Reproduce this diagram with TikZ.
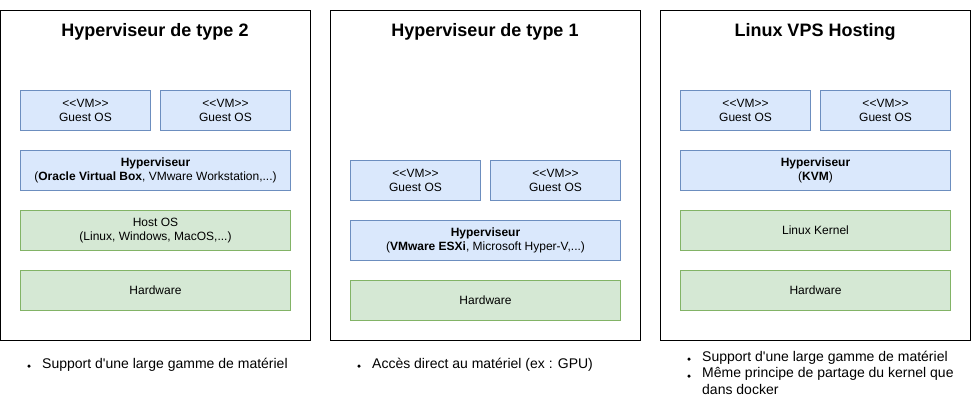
\documentclass[tikz,border=0pt]{standalone}
\usepackage{fontspec}
\setmainfont{Liberation Sans}
\definecolor{bfill}{HTML}{DAE8FC}
\definecolor{bline}{HTML}{6C8EBF}
\definecolor{gfill}{HTML}{D5E8D4}
\definecolor{gline}{HTML}{82B366}
\tikzset{
  panel/.style={draw=black, line width=1bp, fill=white},
  layerbox/.style={line width=1bp, anchor=north west, minimum width=#1, minimum height=40bp, inner sep=0pt, outer sep=0pt, align=center, font=\fontsize{12bp}{14bp}\selectfont},
  bluebox/.style={layerbox=#1, draw=bline, fill=bfill},
  greenbox/.style={layerbox=#1, draw=gline, fill=gfill},
  ttl/.style={font=\fontsize{18bp}{22bp}\selectfont\bfseries},
  bullet/.style={anchor=west, inner sep=0pt, font=\fontsize{14bp}{17bp}\selectfont, align=left},
  dot/.style={fill=black, circle, inner sep=0pt, minimum size=3.5bp}
}
\begin{document}
\begin{tikzpicture}[x=1bp,y=-1bp]
\useasboundingbox (0,0) rectangle (971,415);
% panels
\draw[panel] (0.5,10.5) rectangle (310.5,340.5);
\draw[panel] (330.5,10.5) rectangle (640.5,340.5);
\draw[panel] (660.5,10.5) rectangle (970.5,340.5);
\node[ttl] (t1) at (155,32) {Hyperviseur de type 2};
\node[ttl] (t2) at (485,32) {Hyperviseur de type 1};
\node[ttl] (t3) at (815,32) {Linux VPS Hosting};
% panel 1
\node[bluebox=130bp] (p1vm1) at (20.5,90.5) {<{}<VM>{}>\\Guest OS};
\node[bluebox=130bp] (p1vm2) at (160.5,90.5) {<{}<VM>{}>\\Guest OS};
\node[bluebox=270bp] (p1hyp) at (20.5,150.5) {\textbf{Hyperviseur}\\(\textbf{Oracle Virtual Box}, VMware Workstation,...)};
\node[greenbox=270bp] (p1host) at (20.5,210.5) {Host OS\\(Linux, Windows, MacOS,...)};
\node[greenbox=270bp] (p1hw) at (20.5,270.5) {Hardware};
% panel 2
\node[bluebox=130bp] (p2vm1) at (350.5,160.5) {<{}<VM>{}>\\Guest OS};
\node[bluebox=130bp] (p2vm2) at (490.5,160.5) {<{}<VM>{}>\\Guest OS};
\node[bluebox=270bp] (p2hyp) at (350.5,220.5) {\textbf{Hyperviseur}\\(\textbf{VMware ESXi}, Microsoft Hyper-V,...)};
\node[greenbox=270bp] (p2hw) at (350.5,280.5) {Hardware};
% panel 3
\node[bluebox=130bp] (p3vm1) at (680.5,90.5) {<{}<VM>{}>\\Guest OS};
\node[bluebox=130bp] (p3vm2) at (820.5,90.5) {<{}<VM>{}>\\Guest OS};
\node[bluebox=270bp] (p3hyp) at (680.5,150.5) {\textbf{Hyperviseur}\\(\textbf{KVM})};
\node[greenbox=270bp] (p3lk) at (680.5,210.5) {Linux Kernel};
\node[greenbox=270bp] (p3hw) at (680.5,270.5) {Hardware};
% bullets
\node[dot] (d1) at (29,366) {};
\node[bullet] (b1) at (42,365) {Support d\textquotesingle une large gamme de matériel};
\node[dot] (d2) at (359,366) {};
\node[bullet] (b2) at (372,365) {Accès direct au matériel (ex : GPU)};
\node[dot] (d3) at (689,359) {};
\node[bullet] (b3) at (702,358) {Support d\textquotesingle une large gamme de matériel};
\node[dot] (d4) at (689,376) {};
\node[bullet, anchor=north west] (b4) at (702,367) {Même principe de partage du kernel que\\dans docker};
\end{tikzpicture}
\end{document}
